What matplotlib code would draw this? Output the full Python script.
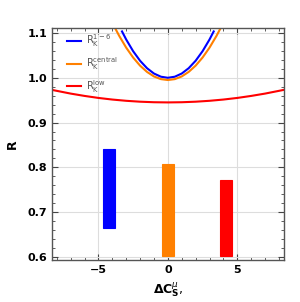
import matplotlib
matplotlib.use("Agg")
import matplotlib.pyplot as plt
from matplotlib.ticker import MultipleLocator

# curves
x_red = [-8.35, -7, -6, -5, -4, -3, -2, -1, 0, 1, 2, 3, 4, 5, 6, 7, 8.35]
r_low = [0.973, 0.9647, 0.9595, 0.955, 0.9514, 0.9486, 0.9466, 0.9454, 0.945,
         0.9454, 0.9466, 0.9486, 0.9514, 0.955, 0.9595, 0.9647, 0.973]

x_blue = [-3.3, -3.0, -2.5, -2.0, -1.5, -1.0, -0.5, 0, 0.5, 1.0, 1.5, 2.0, 2.5, 3.0, 3.3]
r_16 = [1.1035, 1.0855, 1.0594, 1.038, 1.0214, 1.0095, 1.0024, 1.0,
        1.0024, 1.0095, 1.0214, 1.038, 1.0594, 1.0855, 1.1035]

x_orange = [-3.8, -3.5, -3.0, -2.5, -2.0, -1.5, -1.0, -0.5, 0, 0.5, 1.0, 1.5, 2.0, 2.5, 3.0, 3.5, 3.8]
r_central = [1.111, 1.0934, 1.0673, 1.0452, 1.0271, 1.0131, 1.003, 0.997, 0.995,
             0.997, 1.003, 1.0131, 1.0271, 1.0452, 1.0673, 1.0934, 1.111]

# allowed regions (vertical bands)
band_center = [-4.22, 0.01, 4.2]
band_width = [0.86, 0.88, 0.87]
band_low = [0.665, 0.603, 0.601]
band_high = [0.841, 0.808, 0.772]
band_colors = ["#0000ff", "#ff8000", "#ff0000"]

fig = plt.figure(figsize=(3.0, 3.02), dpi=100)
ax = fig.add_axes([0.173, 0.139, 0.773, 0.768])

for c, w, lo, hi, col in zip(band_center, band_width, band_low, band_high, band_colors):
    ax.bar(c, hi - lo, width=w, bottom=lo, color=col, edgecolor=col, linewidth=0.8)

ax.plot(x_blue, r_16, color="#0000ff", lw=1.5, label=r"R$_\mathrm{K}^\mathrm{1-6}$")
ax.plot(x_orange, r_central, color="#ff8000", lw=1.5, label=r"R$_\mathrm{K}^\mathrm{central}$")
ax.plot(x_red, r_low, color="#ff0000", lw=1.5, label=r"R$_\mathrm{K}^\mathrm{low}$")

ax.set_xlim(-8.35, 8.35)
ax.set_ylim(0.593, 1.111)
ax.xaxis.set_major_locator(MultipleLocator(5))
ax.xaxis.set_minor_locator(MultipleLocator(1))
ax.yaxis.set_major_locator(MultipleLocator(0.1))
ax.yaxis.set_minor_locator(MultipleLocator(0.02))
ax.tick_params(which="both", direction="in", top=True, right=True, color="#444444")
ax.tick_params(which="major", length=4, labelsize=8)
ax.tick_params(which="minor", length=2)
ax.set_xticks([-5, 0, 5], ["\u22125", "0", "5"])
for lab in ax.get_xticklabels() + ax.get_yticklabels():
    lab.set_fontweight("bold")
ax.grid(True, which="major", color="#dddddd", lw=0.8)
ax.set_axisbelow(True)
for s in ax.spines.values():
    s.set_color("#555555")
    s.set_linewidth(1.0)

ax.set_xlabel(r"$\mathbf{\Delta C}_{\mathbf{S}}^{\mu}$,", fontsize=9, labelpad=4)
ax.set_ylabel("R", fontsize=9, fontweight="bold", labelpad=6)

leg = ax.legend(loc="upper left", bbox_to_anchor=(0.035, 1.01), frameon=False, borderpad=0.2,
                fontsize=7, handlelength=1.5, labelspacing=0.6, handletextpad=0.5)
for t in leg.get_texts():
    t.set_color("#555555")

fig.savefig("out.png", dpi=100)
